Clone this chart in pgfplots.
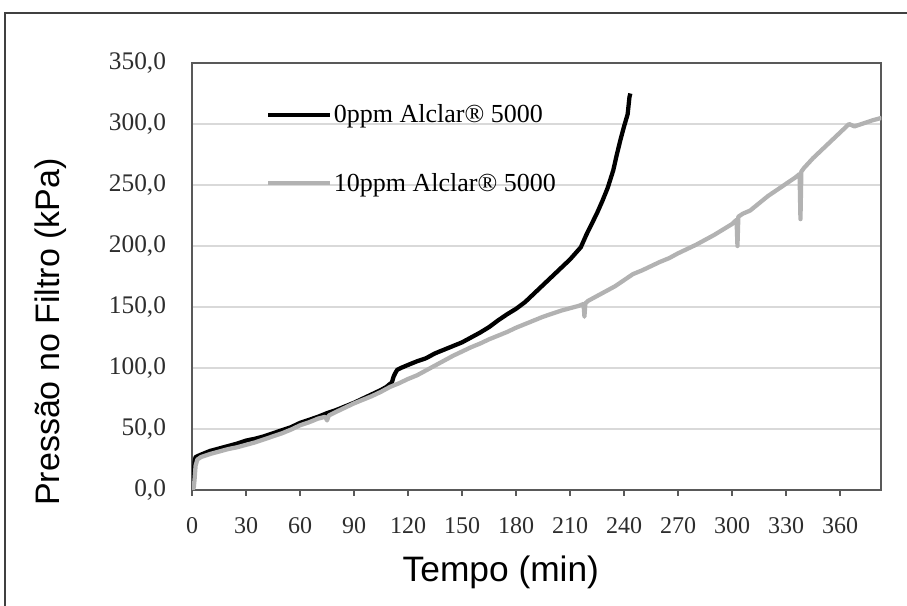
\documentclass[border=0pt]{standalone}
\usepackage{fontspec}
\setmainfont{Liberation Serif}
\setsansfont{Liberation Sans}
\usepackage{pgfplots}
\pgfplotsset{compat=1.18}
\definecolor{gridc}{RGB}{217,217,217}
\definecolor{axc}{RGB}{89,89,89}
\definecolor{frc}{RGB}{64,64,64}
\definecolor{ser2}{RGB}{178,178,178}
\definecolor{tickc}{RGB}{45,45,45}
\begin{document}
\begin{tikzpicture}
\path[use as bounding box] (0,0) rectangle (680.25pt,454.5pt);
\draw[frc, line width=1.5pt] (3.4pt,-10pt) -- (3.4pt,445.1pt) -- (700pt,445.1pt);
\begin{axis}[
  at={(144pt,87pt)}, anchor=south west,
  scale only axis, width=517.1pt, height=320.25pt,
  xmin=0, xmax=383, ymin=0, ymax=350,
  xtick={0,30,...,360}, ytick={0,50,...,350},
  ymajorgrids, grid style={gridc, line width=1pt},
  axis line style={axc, line width=1.5pt},
  tick align=outside, major tick length=4.5pt,
  xtick pos=left, ytick pos=left,
  xtick style={axc, line width=1.2pt},
  ytick style={draw=none},
  /pgf/number format/assume math mode=true,
  x tick label style={font=\fontsize{18}{21}\selectfont, text=tickc, yshift=-12.5pt},
  y tick label style={font=\fontsize{19}{22}\selectfont, text=tickc, /pgf/number format/.cd, fixed, fixed zerofill, precision=1, use comma, /tikz/.cd, xshift=-11.5pt},
  xlabel={Tempo (min)},
  xlabel style={font=\sffamily\fontsize{26.5}{30}\selectfont, at={(axis description cs:0.448,-0.192)}, anchor=center},
  ylabel={Pressão no Filtro (kPa)},
  ylabel style={font=\sffamily\fontsize{25.5}{30}\selectfont, at={(axis description cs:-0.205,0.370)}, anchor=center},
  legend style={draw=none, fill=none, at={(0.101,0.7986)}, anchor=west,
    font=\fontsize{19.5}{22}\selectfont, row sep=36pt, nodes={inner sep=0pt},
    /tikz/every odd column/.append style={column sep=1pt}},
  legend cell align=left,
  legend image code/.code={\draw[#1, line width=3.5pt] (0pt,0pt) -- (46.5pt,0pt);},
]
\addplot[black, line width=3.2pt, line join=round] table {
x y
0 0
0.5 3
1 15
1.5 24
2 27
5 29
10 32
15 34
20 36
25 38
30 40.5
35 42
40 44
45 46.5
50 49
55 51.5
60 55
65 57.5
70 60
75 63
80 65.5
85 68.5
90 71.5
95 75
100 78.5
105 82
108 84.5
110 87
111 88
112 93
113 96
114 98.5
116 100
120 102.5
125 105.5
130 108
135 112
140 115
145 118
150 121
155 125
160 129
165 133.5
170 139
175 144
180 148.5
185 154
190 161
195 168
200 175
205 182
210 189
213 194
216 199
219 209
222 218
225 227
228 237
231 248
234 262
236 275
238 287
240 298
241 303
242 308
242.5 315
243 322
243.5 325
};
\addlegendentry{0ppm Alclar® 5000}
\addplot[ser2, line width=3.2pt, line join=round] table {
x y
0 0
1 2
1.5 10
2 20
3 25
5 27
10 29.5
15 31.5
20 33.5
25 35
30 37
35 39
40 41.5
45 44
50 46.5
55 49.5
60 53
65 55.5
70 58.5
74 60
75 57
76 61
80 64
85 67.5
90 71
95 74
100 77
105 80.5
110 84.5
115 87.5
120 91
125 94
130 98
135 102
140 106
145 110
150 113.5
155 117
160 120
165 123.5
170 126.5
175 129.5
180 133
185 136
190 139
195 142
200 144.5
205 147
210 149
215 151
217.5 152.5
218 142
218.5 153
220 155
225 159
230 163
235 167
240 172
245 177
250 180
255 183.5
260 187
265 190
270 194
275 197.5
280 201
285 205
290 209
295 213.5
300 218
302.5 221.5
303 200
303.5 224
306 226.5
310 229
315 235
320 241
325 246
330 251
335 256
337.5 259
338 222
338.5 261
340 264
345 272
350 279
355 286
360 293
365 300
368 298
372 300
378 303
383 305
};
\addlegendentry{10ppm Alclar® 5000}
\end{axis}
\end{tikzpicture}
\end{document}
